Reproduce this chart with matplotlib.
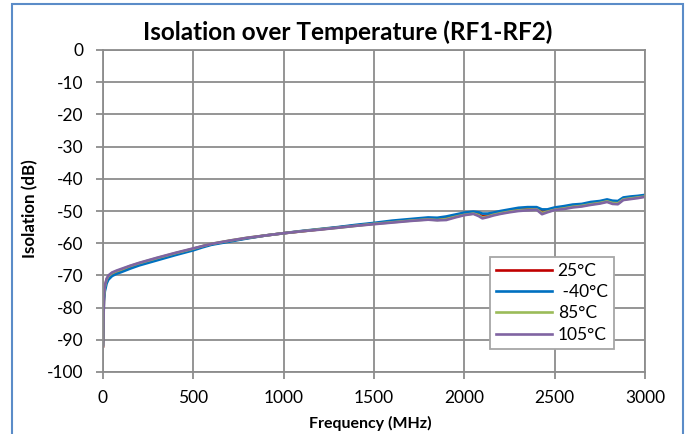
import matplotlib.pyplot as plt
from matplotlib.patches import Rectangle

# frequency points (MHz)
freq = [0, 5, 10, 20, 30, 50, 75, 100, 150, 200, 300, 400, 500, 550, 600, 700,
        800, 900, 1000, 1100, 1200, 1300, 1400, 1500, 1600, 1700, 1800, 1850,
        1900, 1950, 2000, 2050, 2080, 2100, 2130, 2160, 2200, 2250, 2300, 2350,
        2400, 2430, 2460, 2500, 2550, 2600, 2650, 2700, 2750, 2790, 2820, 2850,
        2880, 2920, 2960, 3000]

# isolation (dB) per temperature
iso_25 = [-92, -77, -74, -71.5, -70.5, -69.5, -68.9, -68.4, -67.3, -66.4, -64.8,
          -63.2, -61.8, -61.0, -60.3, -59.3, -58.4, -57.6, -56.9, -56.3, -55.7,
          -55.1, -54.5, -53.9, -53.3, -52.9, -52.4, -52.6, -52.2, -51.6, -51.0,
          -50.6, -51.0, -51.6, -51.4, -51.0, -50.5, -50.0, -49.6, -49.4, -49.3,
          -50.2, -50.0, -49.4, -49.0, -48.5, -48.2, -47.6, -47.3, -46.8, -47.2,
          -47.4, -46.2, -45.9, -45.6, -45.3]
iso_m40 = [-91.5, -78, -75, -72.5, -71.3, -70.2, -69.5, -69.0, -67.9, -66.9, -65.3,
           -63.7, -62.2, -61.3, -60.5, -59.5, -58.5, -57.6, -56.9, -56.2, -55.6,
           -55.0, -54.3, -53.7, -53.0, -52.5, -52.0, -52.1, -51.7, -51.1, -50.5,
           -50.2, -50.4, -50.8, -50.8, -50.5, -50.0, -49.5, -49.0, -48.8, -48.8,
           -49.5, -49.5, -48.9, -48.5, -48.0, -47.8, -47.2, -46.9, -46.4, -46.8,
           -46.9, -45.8, -45.5, -45.3, -45.0]
iso_85 = [-92, -76.5, -73.6, -71.2, -70.2, -69.3, -68.7, -68.2, -67.1, -66.2, -64.6,
          -63.1, -61.7, -60.9, -60.2, -59.2, -58.3, -57.6, -56.9, -56.3, -55.7,
          -55.2, -54.6, -54.0, -53.5, -53.0, -52.6, -52.8, -52.5, -51.8, -51.2,
          -50.8, -51.3, -52.0, -51.7, -51.2, -50.7, -50.2, -49.8, -49.6, -49.5,
          -50.6, -50.2, -49.6, -49.2, -48.7, -48.4, -47.9, -47.5, -47.0, -47.5,
          -47.6, -46.4, -46.1, -45.8, -45.5]
iso_105 = [-92, -76, -73.3, -71, -70, -69.1, -68.5, -68.0, -67.0, -66.1, -64.5,
           -63.0, -61.6, -60.9, -60.2, -59.2, -58.3, -57.6, -56.9, -56.3, -55.8,
           -55.2, -54.6, -54.1, -53.6, -53.1, -52.7, -52.9, -52.8, -52.0, -51.3,
           -50.9, -51.6, -52.3, -51.9, -51.4, -50.9, -50.4, -50.0, -49.8, -49.6,
           -51.0, -50.4, -49.7, -49.4, -48.9, -48.6, -48.1, -47.7, -47.2, -47.8,
           -47.9, -46.6, -46.3, -46.0, -45.6]

labels = ['25°C', ' -40°C', '85°C', '105°C']
colors = ['#C00000', '#0070C0', '#9BBB59', '#8064A2']
series = [iso_25, iso_m40, iso_85, iso_105]

plt.rcParams['font.family'] = ['Lato', 'DejaVu Sans']
plt.rcParams['axes.unicode_minus'] = False

fig = plt.figure(figsize=(6.91, 4.34), dpi=100)
ax = fig.add_axes([103/691, 1 - 372/434, (645 - 103)/691, (372 - 50)/434])

for vals, lab, col in zip(series, labels, colors):
    ax.plot(freq, vals, color=col, linewidth=1.9, label=lab)

grid_col = '#8C8C8C'
ax.set_xlim(0, 3000)
ax.set_ylim(-100, 0)
ax.set_xticks(range(0, 3001, 500))
ax.set_yticks(range(-100, 1, 10))
ax.grid(True, color=grid_col, linewidth=1.3)
ax.set_axisbelow(True)
for s in ax.spines.values():
    s.set_color(grid_col)
    s.set_linewidth(1.3)
ax.tick_params(direction='out', length=5, width=1.3, color=grid_col,
               labelsize=12.5)
ax.tick_params(axis='y', pad=9)
ax.tick_params(axis='x', pad=8)

fig.text(348/691, 1 - 32/434, 'Isolation over Temperature (RF1-RF2)',
         fontsize=17.5, fontweight='bold', ha='center', va='center')
fig.text(370/691, 1 - 423/434, 'Frequency (MHz)', fontsize=11.5,
         fontweight='bold', ha='center', va='center')
fig.text(30/691, 1 - 209/434, 'Isolation (dB)', fontsize=12.2,
         fontweight='bold', ha='center', va='center', rotation=90)

leg = ax.legend(loc='upper left', bbox_to_anchor=((490 - 103)/542, (372 - 257)/322),
                borderaxespad=0, fontsize=12.5, frameon=True, fancybox=False,
                framealpha=1, handlelength=3.2, borderpad=0.35,
                labelspacing=0.3, handletextpad=0.35)
leg.get_frame().set_edgecolor('#A6A6A6')
leg.get_frame().set_linewidth(1.3)

# chart border
fig.patches.append(Rectangle((12/691, -0.1), (683 - 12)/691, 1.1 - 4/434,
                             transform=fig.transFigure, fill=False,
                             edgecolor='#5B8CC8', linewidth=1.5))

fig.savefig('out.png', dpi=100)
